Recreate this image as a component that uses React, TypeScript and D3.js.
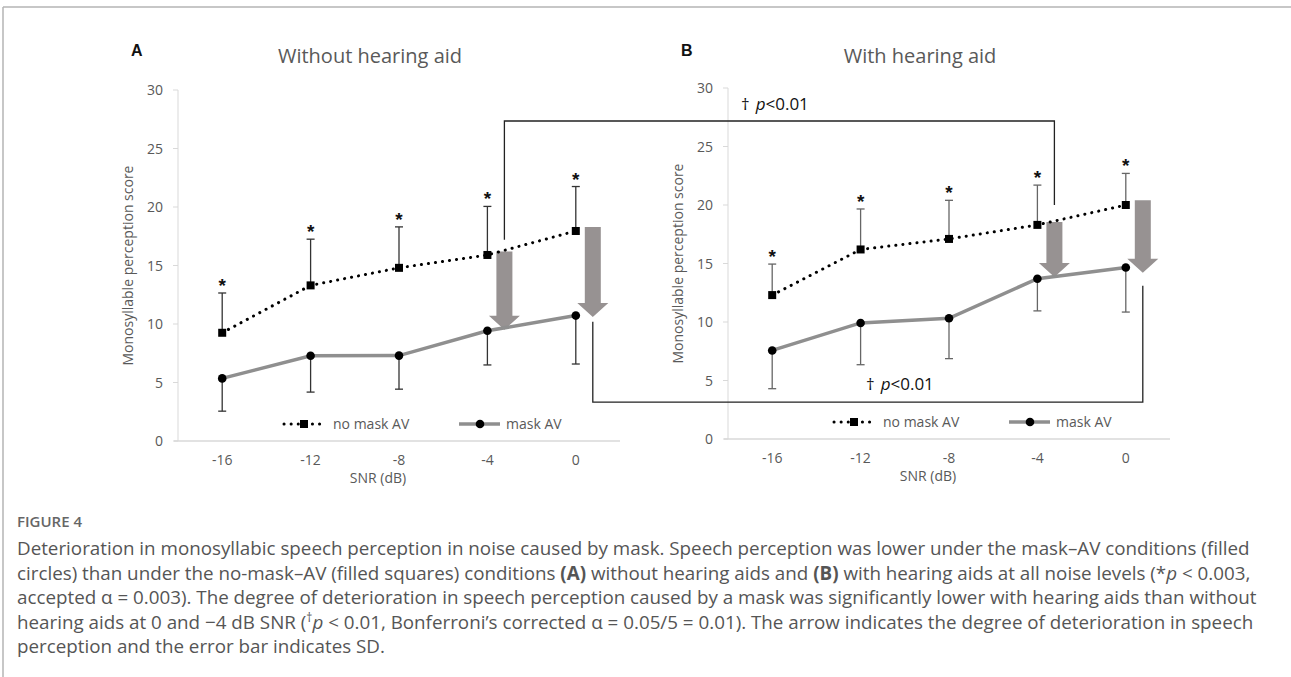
import React from "react";
import * as d3 from "d3";

// SNR categories and y ticks
const snrLevels = ["-16", "-12", "-8", "-4", "0"];
const yTicks = [0, 5, 10, 15, 20, 25, 30];

// Panel A: without hearing aid
const noMaskA = [9.25, 13.3, 14.8, 15.9, 17.95];
const noMaskSdA = [3.4, 3.95, 3.5, 4.15, 3.8];
const maskA = [5.35, 7.28, 7.3, 9.42, 10.72];
const maskSdA = [2.8, 3.1, 2.87, 2.92, 4.14];

// Panel B: with hearing aid
const noMaskB = [12.3, 16.2, 17.1, 18.3, 20.0];
const noMaskSdB = [2.65, 3.46, 3.3, 3.4, 2.7];
const maskB = [7.57, 9.92, 10.32, 13.7, 14.66];
const maskSdB = [3.27, 3.57, 3.45, 2.75, 3.81];

// deterioration arrows (from / to in score units)
const arrowsA = [
  { snr: "-4", from: 16.2, to: 9.5 },
  { snr: "0", from: 18.3, to: 10.6 },
];
const arrowsB = [
  { snr: "-4", from: 18.55, to: 13.85 },
  { snr: "0", from: 20.4, to: 14.2 },
];

const FONT = "'Open Sans', sans-serif";
const AXIS_GREY = "#d9d9d9";
const TEXT_GREY = "#595959";
const ARROW_GREY = "#979292";
const LINE_GREY = "#8f8f8f";

const makeScales = (left: number, bottom: number) => {
  const x = d3.scaleBand<string>().domain(snrLevels).range([left, left + 442]);
  const y = d3.scaleLinear().domain([0, 30]).range([bottom, bottom - 351]);
  const cx = (s: string) => (x(s) as number) + x.bandwidth() / 2;
  return { x, y, cx, left, bottom };
};

const scA = makeScales(178, 441);
const scB = makeScales(728, 439);
const ARROW_DX = 17;

const arrowPath = (cx: number, yTop: number, yTip: number) => {
  const p = d3.path();
  p.moveTo(cx - 8, yTop);
  p.lineTo(cx + 8, yTop);
  p.lineTo(cx + 8, yTip - 14);
  p.lineTo(cx + 15.5, yTip - 14);
  p.lineTo(cx, yTip);
  p.lineTo(cx - 15.5, yTip - 14);
  p.lineTo(cx - 8, yTip - 14);
  p.closePath();
  return p.toString();
};

type PanelProps = {
  sc: ReturnType<typeof makeScales>;
  letter: string;
  title: string;
  noMask: number[];
  noMaskSd: number[];
  mask: number[];
  maskSd: number[];
  arrows: { snr: string; from: number; to: number }[];
  errColor: string;
};

const Panel = ({ sc, letter, title, noMask, noMaskSd, mask, maskSd, arrows, errColor }: PanelProps) => {
  const { cx, y, left, bottom } = sc;
  const right = left + 442;
  const line = d3
    .line<number>()
    .x((_, i) => cx(snrLevels[i]))
    .y((d) => y(d));
  const legY = bottom - 17;
  return (
    <g>
      <text x={left - 47} y={56} fontFamily="'Liberation Sans', Arial, sans-serif" fontWeight="bold" fontSize={16} fill="#111">
        {letter}
      </text>
      <text x={left + 192} y={63} textAnchor="middle" fontFamily={FONT} fontSize={20} fill={TEXT_GREY}>
        {title}
      </text>
      {/* y axis */}
      <line x1={left} x2={left} y1={y(30)} y2={bottom} stroke={AXIS_GREY} strokeWidth={1} />
      {yTicks.map((t) => (
        <g key={t}>
          <line x1={left - 5} x2={left} y1={y(t)} y2={y(t)} stroke={AXIS_GREY} />
          <text x={left - 15} y={y(t) + 5} textAnchor="end" fontFamily={FONT} fontSize={14} fill={TEXT_GREY}>
            {t}
          </text>
        </g>
      ))}
      <text
        transform={`translate(${left - 45},${y(15)}) rotate(-90)`}
        textAnchor="middle"
        fontFamily={FONT}
        fontSize={14}
        fill={TEXT_GREY}
      >
        Monosyllable perception score
      </text>
      {/* x axis */}
      <line x1={left - 4} x2={right} y1={bottom} y2={bottom} stroke={AXIS_GREY} strokeWidth={1.5} />
      {snrLevels.map((s) => (
        <text key={s} x={cx(s)} y={bottom + 24} textAnchor="middle" fontFamily={FONT} fontSize={14} fill={TEXT_GREY}>
          {s}
        </text>
      ))}
      <text x={(left + right) / 2 - 21} y={bottom + 42} textAnchor="middle" fontFamily={FONT} fontSize={14} fill={TEXT_GREY}>
        SNR (dB)
      </text>

      {/* error bars: no mask up, mask down */}
      {snrLevels.map((s, i) => {
        const xc = cx(s);
        const top = y(noMask[i] + noMaskSd[i]);
        const low = y(mask[i] - maskSd[i]);
        return (
          <g key={s} stroke={errColor} strokeWidth={1.3}>
            <line x1={xc} x2={xc} y1={y(noMask[i])} y2={top} />
            <line x1={xc - 4} x2={xc + 4} y1={top} y2={top} />
            <line x1={xc} x2={xc} y1={y(mask[i])} y2={low} />
            <line x1={xc - 4} x2={xc + 4} y1={low} y2={low} />
            <text
              x={xc}
              y={top - 1}
              textAnchor="middle"
              fontFamily="'Liberation Sans', Arial, sans-serif"
              fontWeight="bold"
              fontSize={19}
              fill="#111"
              stroke="none"
            >
              *
            </text>
          </g>
        );
      })}

      {/* arrows */}
      {arrows.map((a) => (
        <path key={a.snr} d={arrowPath(cx(a.snr) + ARROW_DX, y(a.from), y(a.to))} fill={ARROW_GREY} />
      ))}

      {/* mask AV */}
      <path d={line(mask) || ""} fill="none" stroke={LINE_GREY} strokeWidth={3.5} />
      {mask.map((v, i) => (
        <circle key={i} cx={cx(snrLevels[i])} cy={y(v)} r={4.3} fill="#000" />
      ))}
      {/* no mask AV */}
      <path d={line(noMask) || ""} fill="none" stroke="#000" strokeWidth={3} strokeDasharray="0.1 7" strokeLinecap="round" />
      {noMask.map((v, i) => (
        <rect key={i} x={cx(snrLevels[i]) - 4} y={y(v) - 4} width={8} height={8} fill="#000" />
      ))}

      {/* legend */}
      <line x1={left + 106} x2={left + 146} y1={legY} y2={legY} stroke="#000" strokeWidth={3} strokeDasharray="0.1 7" strokeLinecap="round" />
      <rect x={left + 122} y={legY - 4} width={8} height={8} fill="#000" />
      <text x={left + 155} y={legY + 5} fontFamily={FONT} fontSize={14} fill={TEXT_GREY}>
        no mask AV
      </text>
      <line x1={left + 281} x2={left + 322} y1={legY} y2={legY} stroke={LINE_GREY} strokeWidth={3.5} />
      <circle cx={left + 302} cy={legY} r={4.3} fill="#000" />
      <text x={left + 328} y={legY + 5} fontFamily={FONT} fontSize={14} fill={TEXT_GREY}>
        mask AV
      </text>
    </g>
  );
};

const PLabel = ({ x, y }: { x: number; y: number }) => (
  <text x={x} y={y} fontFamily={FONT} fontSize={17} fill="#111">
    †
    <tspan dx={6} fontStyle="italic">p</tspan>
    <tspan>&lt;0.01</tspan>
  </text>
);

const captionLines = [
  "Deterioration in monosyllabic speech perception in noise caused by mask. Speech perception was lower under the mask\u2013AV conditions (filled",
  null,
  "accepted \u03b1 = 0.003). The degree of deterioration in speech perception caused by a mask was significantly lower with hearing aids than without",
  null,
  "perception and the error bar indicates SD.",
];

export default function App() {
  const xTop1 = scA.cx("-4") + ARROW_DX;
  const xTop2 = scB.cx("-4") + ARROW_DX;
  const xBot1 = scA.cx("0") + ARROW_DX;
  const xBot2 = scB.cx("0") + ARROW_DX;
  const topPts: [number, number][] = [
    [xTop1, scA.y(17.2)],
    [xTop1, scA.y(27.35)],
    [xTop2, scA.y(27.35)],
    [xTop2, scB.y(20.0)],
  ];
  const botPts: [number, number][] = [
    [xBot1, scA.y(10.2)],
    [xBot1, scA.y(3.33)],
    [xBot2, scA.y(3.33)],
    [xBot2, scB.y(13.1)],
  ];
  const bracket = d3.line();
  const capX = 17;
  const capY0 = 555;
  const lh = 24.5;
  return (
    <svg width={1291} height={677} style={{ position: "absolute", left: 0, top: 0, background: "#fff" }}>
      <rect width={1291} height={677} fill="#fff" />
      <line x1={3} x2={1291} y1={7} y2={7} stroke="#b5b5b5" strokeWidth={1.5} />
      <line x1={3} x2={3} y1={7} y2={677} stroke="#b5b5b5" strokeWidth={1.5} />

      <Panel sc={scA} letter="A" title="Without hearing aid" noMask={noMaskA} noMaskSd={noMaskSdA} mask={maskA} maskSd={maskSdA} arrows={arrowsA} errColor="#333" />
      <Panel sc={scB} letter="B" title="With hearing aid" noMask={noMaskB} noMaskSd={noMaskSdB} mask={maskB} maskSd={maskSdB} arrows={arrowsB} errColor="#666" />

      <path d={bracket(topPts) || ""} fill="none" stroke="#222" strokeWidth={1.3} />
      <path d={bracket(botPts) || ""} fill="none" stroke="#222" strokeWidth={1.3} />
      <PLabel x={741} y={110} />
      <PLabel x={866} y={390} />

      {/* caption */}
      <text x={capX} y={527} fontFamily={FONT} fontSize={15} fontWeight={600} fill="#666">
        FIGURE 4
      </text>
      <g fontFamily={FONT} fontSize={18.8} fill="#555">
        <text x={capX} y={capY0}>{captionLines[0]}</text>
        <text x={capX} y={capY0 + lh}>
          circles) than under the no-mask{"\u2013"}AV (filled squares) conditions <tspan fontWeight="bold">(A)</tspan> without hearing aids and{" "}
          <tspan fontWeight="bold">(B)</tspan> with hearing aids at all noise levels (*<tspan fontStyle="italic">p</tspan> {"<"} 0.003,
        </text>
        <text x={capX} y={capY0 + 2 * lh}>{captionLines[2]}</text>
        <text x={capX} y={capY0 + 3 * lh}>
          hearing aids at 0 and {"\u2212"}4 dB SNR (<tspan fontSize={12} dy={-7}>{"\u2020"}</tspan>
          <tspan fontStyle="italic" dy={7}>p</tspan> {"<"} 0.01, Bonferroni{"\u2019"}s corrected {"\u03b1"} = 0.05/5 = 0.01). The arrow indicates the degree of deterioration in speech
        </text>
        <text x={capX} y={capY0 + 4 * lh}>{captionLines[4]}</text>
      </g>
    </svg>
  );
}
